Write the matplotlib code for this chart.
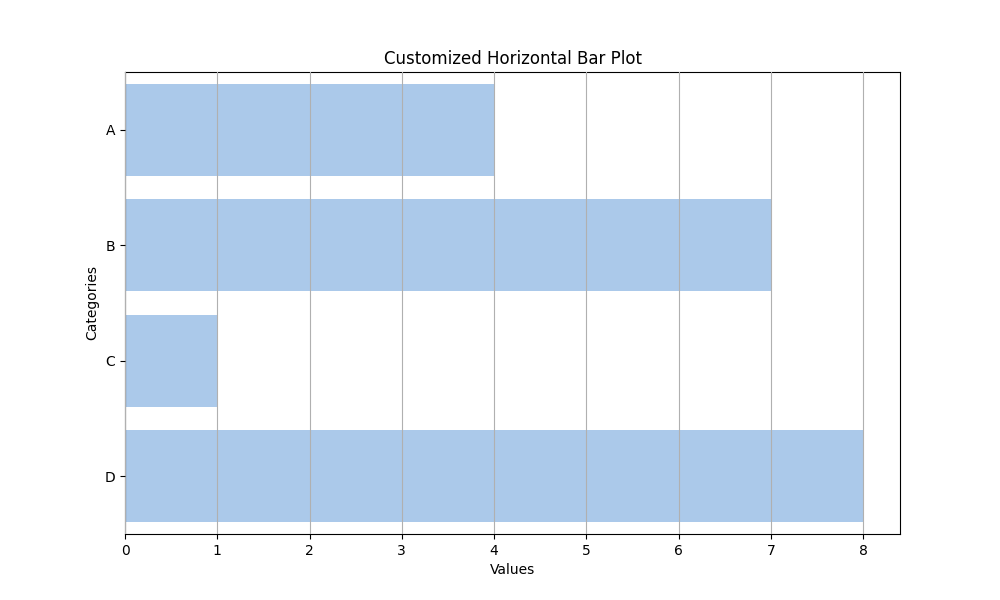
import matplotlib
matplotlib.use("Agg")
import matplotlib.pyplot as plt

# data
categories = ["A", "B", "C", "D"]
values = [4, 7, 1, 8]

fig, ax = plt.subplots(figsize=(10, 6), dpi=100)
ax.barh(categories, values, color="#abc9ea")
ax.set_ylim(len(categories) - 0.5, -0.5)
ax.xaxis.grid(True)
ax.set_axisbelow(False)

ax.set_title("Customized Horizontal Bar Plot")
ax.set_xlabel("Values")
ax.set_ylabel("Categories")

plt.savefig("out.png")
